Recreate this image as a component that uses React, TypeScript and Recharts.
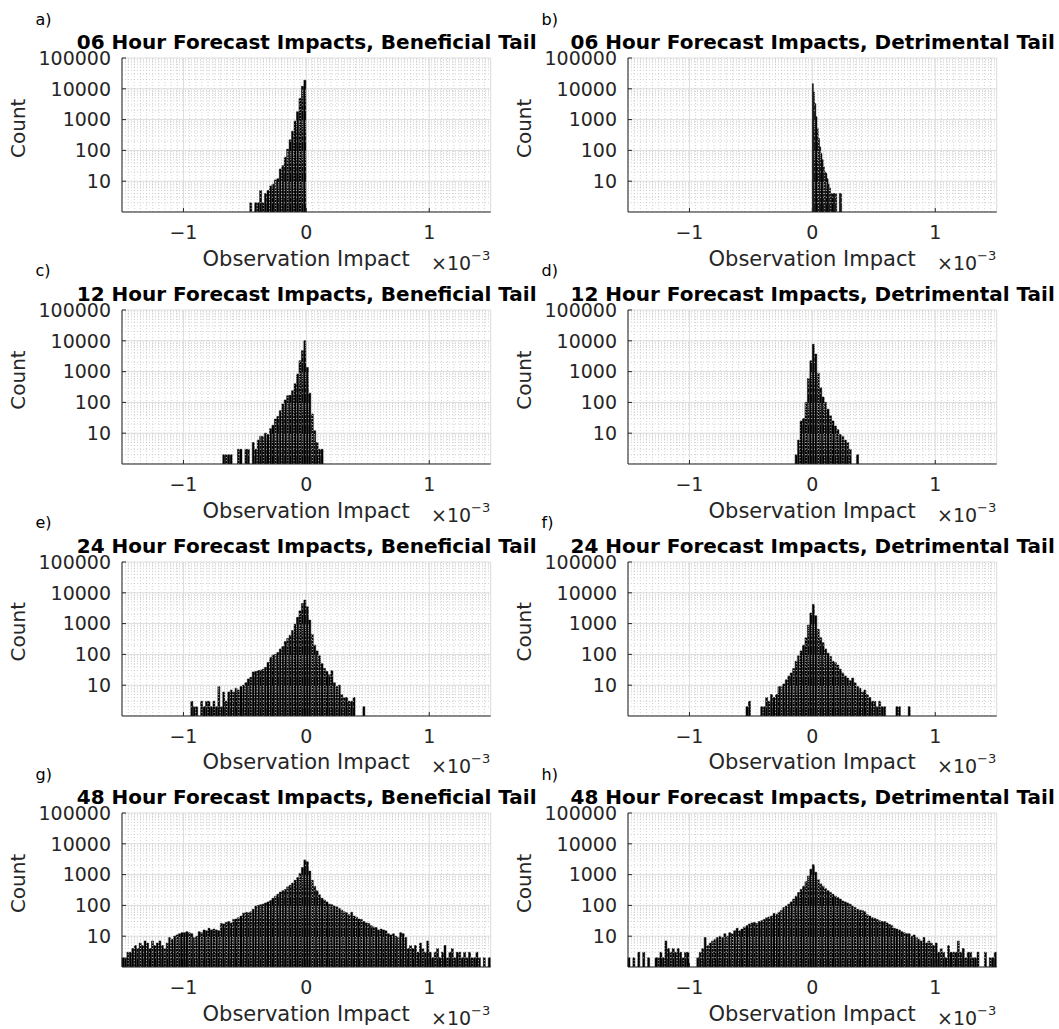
import React from 'react';
import { BarChart, Bar, XAxis, YAxis, CartesianGrid, ReferenceLine } from 'recharts';

// ---- histogram counts (each list starts at its *Start edge, one value per bin of *Width) ----
const ben06Start = -0.46;
const ben06Width = 0.02;
const ben06Counts = [2, 0, 2, 2, 5, 2, 4, 5, 7, 8, 11, 12, 25, 32, 60, 110, 220, 420, 900, 1800, 4900, 12000, 19000];

const det06Start = 0;
const det06Width = 0.01;
const det06Counts = [14700, 7900, 3300, 1240, 510, 245, 130, 80, 50, 30, 20, 18, 12, 8, 6, 4, 4, 4, 4, 4, 0, 0, 4, 4];

const ben12Start = -0.68;
const ben12Width = 0.02;
const ben12Counts = [2, 2, 2, 2, 0, 0, 3, 3, 0, 3, 3, 0, 5, 3, 6, 8, 8, 10, 9, 14, 18, 29, 35, 54, 89, 120, 165, 170, 240, 400, 830, 2250, 4800, 10000, 1370, 200, 42, 12, 5, 3, 3];

const det12Start = -0.14;
const det12Width = 0.02;
const det12Counts = [2, 6, 25, 30, 100, 600, 2250, 7700, 3700, 900, 300, 150, 100, 60, 37, 25, 17, 13, 9, 8, 6, 5, 3, 0, 0, 2];

const ben24Start = -0.94;
const ben24Width = 0.02;
const ben24Counts = [3, 2, 2, 0, 3, 2, 3, 3, 2, 3, 2, 9, 2, 6, 3, 6, 7, 6, 8, 7, 9, 10, 12, 16, 18, 27, 28, 30, 31, 33, 38, 55, 80, 95, 100, 115, 150, 180, 260, 330, 420, 600, 950, 1600, 2600, 4500, 5800, 3500, 1300, 450, 200, 130, 90, 50, 35, 28, 22, 30, 12, 9, 10, 5, 4, 4, 3, 3, 4, 0, 0, 0, 2];

const det24Start = -0.54;
const det24Width = 0.02;
const det24Counts = [2, 3, 0, 0, 0, 0, 2, 2, 4, 3, 5, 4, 5, 9, 9, 11, 15, 20, 25, 35, 60, 90, 130, 200, 350, 900, 2200, 4200, 1800, 650, 350, 240, 150, 110, 85, 60, 54, 45, 33, 25, 20, 17, 14, 17, 12, 9, 8, 6, 7, 5, 4, 3, 3, 2, 3, 2, 2, 0, 0, 0, 0, 2, 2, 0, 0, 0, 2];

const ben48Start = -1.5;
const ben48Width = 0.02;
const ben48Counts = [
  2, 2, 3, 3, 4, 5, 4, 6, 5, 7, 6, 4, 7, 5, 6, 7, 5, 4, 6, 9,
  8, 10, 11, 12, 13, 13, 14, 13, 12, 9, 10, 14, 13, 16, 15, 18, 16, 17, 16, 15,
  26, 25, 28, 30, 27, 35, 36, 40, 45, 56, 60, 58, 62, 75, 95, 100, 105, 110, 120, 130,
  145, 170, 200, 230, 270, 300, 330, 400, 450, 530, 650, 800, 1100, 1700, 3000, 2600, 1300, 650, 420, 300,
  220, 170, 150, 130, 110, 105, 95, 90, 80, 70, 62, 58, 50, 60, 45, 42, 36, 35, 30, 27,
  26, 22, 20, 19, 16, 17, 16, 15, 12, 11, 12, 10, 9, 13, 12, 9, 4, 5, 4, 5,
  3, 6, 4, 3, 7, 3, 2, 3, 4, 2, 3, 5, 2, 3, 4, 2, 3, 3, 2, 3,
  2, 3, 2, 2, 3, 2, 0, 2, 0, 2,
];

const det48Start = -1.5;
const det48Width = 0.02;
const det48Counts = [
  2, 0, 2, 0, 3, 0, 3, 0, 2, 0, 0, 2, 2, 3, 2, 7, 4, 3, 4, 3,
  4, 3, 2, 3, 3, 0, 0, 0, 2, 3, 4, 9, 5, 6, 7, 8, 9, 10, 9, 12,
  10, 13, 12, 15, 18, 15, 17, 20, 22, 25, 27, 28, 26, 30, 32, 35, 40, 42, 45, 55,
  52, 60, 70, 85, 95, 110, 130, 160, 200, 260, 330, 420, 600, 900, 1500, 2100, 1200, 700, 500, 420,
  350, 300, 260, 230, 200, 180, 160, 140, 130, 120, 110, 95, 85, 75, 70, 68, 62, 50, 45, 40,
  38, 35, 32, 30, 30, 27, 24, 22, 18, 17, 16, 14, 13, 12, 12, 10, 11, 9, 8, 7,
  9, 6, 7, 6, 5, 6, 3, 4, 3, 2, 5, 3, 3, 3, 7, 3, 4, 2, 3, 3,
  2, 2, 3, 0, 0, 3, 0, 2, 2, 3,
];

// ---- panel text ----
const panelLetters = ['a)', 'b)', 'c)', 'd)', 'e)', 'f)', 'g)', 'h)'];
const panelTitles = [
  '06 Hour Forecast Impacts, Beneficial Tail',
  '06 Hour Forecast Impacts, Detrimental Tail',
  '12 Hour Forecast Impacts, Beneficial Tail',
  '12 Hour Forecast Impacts, Detrimental Tail',
  '24 Hour Forecast Impacts, Beneficial Tail',
  '24 Hour Forecast Impacts, Detrimental Tail',
  '48 Hour Forecast Impacts, Beneficial Tail',
  '48 Hour Forecast Impacts, Detrimental Tail',
];
const xLabel = 'Observation Impact';
const yLabel = 'Count';
const xTicks = [-1, 0, 1];
const yTicks = [10, 100, 1000, 10000, 100000];
const X_MIN = -1.5;
const X_MAX = 1.5;
const Y_MIN = 1;
const Y_MAX = 100000;

const histograms = [
  { start: ben06Start, width: ben06Width, counts: ben06Counts },
  { start: det06Start, width: det06Width, counts: det06Counts },
  { start: ben12Start, width: ben12Width, counts: ben12Counts },
  { start: det12Start, width: det12Width, counts: det12Counts },
  { start: ben24Start, width: ben24Width, counts: ben24Counts },
  { start: det24Start, width: det24Width, counts: det24Counts },
  { start: ben48Start, width: ben48Width, counts: ben48Counts },
  { start: det48Start, width: det48Width, counts: det48Counts },
];

// ---- layout ----
const PLOT_W = 368.7;
const PLOT_H = 154;
const COL_X = [122.3, 628.3];
const ROW_Y0 = 58.3;
const ROW_STEP = 251.7;
const Y_AXIS_W = 100;
const M_TOP = 12;
const M_RIGHT = 6;
const X_AXIS_H = 40;

const FONT = "'DejaVu Sans', sans-serif";
const AXIS_COLOR = '#262626';

// minor grid values
const minorY: number[] = [];
for (let e = 0; e < 5; e++) for (let m = 2; m <= 9; m++) minorY.push(m * Math.pow(10, e));
const minorX: number[] = [];
for (let i = -30; i <= 30; i++) {
  const v = i * 0.05;
  if (i % 20 !== 0 && Math.abs(v) < 1.5) minorX.push(Math.round(v * 1000) / 1000);
}

const fmtX = (v: number) => (v < 0 ? `\u2212${-v}` : `${v}`);

function buildBins(start: number, width: number, counts: number[]) {
  const n = Math.round((X_MAX - X_MIN) / width);
  const first = Math.round((start - X_MIN) / width);
  const rows: { bin: number; center: number; count: number | null }[] = [];
  for (let i = 0; i < n; i++) {
    const c = counts[i - first];
    rows.push({ bin: i, center: X_MIN + (i + 0.5) * width, count: c && c > 1 ? c : null });
  }
  return rows;
}

function Panel({ idx }: { idx: number }) {
  const h = histograms[idx];
  const data = buildBins(h.start, h.width, h.counts);
  const col = idx % 2;
  const row = Math.floor(idx / 2);
  const plotX = COL_X[col];
  const plotY = ROW_Y0 + row * ROW_STEP;
  const width = Y_AXIS_W + PLOT_W + M_RIGHT;
  const height = M_TOP + PLOT_H + X_AXIS_H;
  const tickStyle = { fill: AXIS_COLOR, fontSize: 19, fontFamily: FONT };
  return (
    <div style={{ position: 'absolute', left: plotX - Y_AXIS_W, top: plotY - M_TOP, width, height }}>
      <BarChart
        width={width}
        height={height}
        data={data}
        margin={{ top: M_TOP, right: M_RIGHT, bottom: 0, left: 0 }}
        barCategoryGap={0}
        barGap={0}
      >
        <CartesianGrid stroke="#dcdcdc" strokeWidth={1} />
        {minorY.map((v) => (
          <ReferenceLine key={`my${v}`} y={v} stroke="#c6c6c6" strokeDasharray="1 2" strokeWidth={0.8} />
        ))}
        {minorX.map((v) => (
          <ReferenceLine key={`mx${v}`} x={v} stroke="#c6c6c6" strokeDasharray="1 2" strokeWidth={0.8} />
        ))}
        <XAxis xAxisId="bins" dataKey="bin" type="category" hide />
        <XAxis
          dataKey="center"
          type="number"
          domain={[X_MIN, X_MAX]}
          allowDataOverflow
          ticks={xTicks}
          interval={0}
          tickFormatter={fmtX}
          tickSize={-4}
          tickMargin={18}
          height={X_AXIS_H}
          tick={tickStyle}
          axisLine={{ stroke: AXIS_COLOR }}
          tickLine={{ stroke: AXIS_COLOR }}
        />
        <XAxis
          xAxisId="top"
          orientation="top"
          dataKey="center"
          type="number"
          domain={[X_MIN, X_MAX]}
          allowDataOverflow
          ticks={xTicks}
          interval={0}
          height={0}
          tick={false}
          tickSize={-4}
          axisLine={{ stroke: AXIS_COLOR }}
          tickLine={{ stroke: AXIS_COLOR }}
        />
        <YAxis
          scale="log"
          type="number"
          domain={[Y_MIN, Y_MAX]}
          allowDataOverflow
          ticks={yTicks}
          interval={0}
          width={Y_AXIS_W}
          tickSize={-4}
          tickMargin={15}
          tick={tickStyle}
          axisLine={{ stroke: AXIS_COLOR }}
          tickLine={{ stroke: AXIS_COLOR }}
        />
        <YAxis
          yAxisId="right"
          orientation="right"
          scale="log"
          type="number"
          domain={[Y_MIN, Y_MAX]}
          allowDataOverflow
          ticks={yTicks}
          interval={0}
          width={0}
          tick={false}
          tickSize={-4}
          axisLine={{ stroke: AXIS_COLOR }}
          tickLine={{ stroke: AXIS_COLOR }}
        />
        <Bar
          xAxisId="bins"
          dataKey="count"
          fill="#000000"
          stroke="#000000"
          strokeWidth={0.5}
          isAnimationActive={false}
        />
      </BarChart>
    </div>
  );
}

function PanelText({ idx }: { idx: number }) {
  const col = idx % 2;
  const row = Math.floor(idx / 2);
  const plotX = COL_X[col];
  const plotY = ROW_Y0 + row * ROW_STEP;
  const cx = plotX + PLOT_W / 2;
  const bottom = plotY + PLOT_H;
  const countX = plotX - 104.6;
  const countY = plotY + PLOT_H / 2 - 7;
  return (
    <g fontFamily={FONT}>
      <text x={plotX - 86.8} y={plotY - 33.7} fontSize={16} fill="#000">
        {panelLetters[idx]}
      </text>
      <text x={cx} y={plotY - 9} fontSize={20} fontWeight="bold" textAnchor="middle" fill="#000">
        {panelTitles[idx]}
      </text>
      <text
        x={countX}
        y={countY}
        fontSize={20}
        textAnchor="middle"
        dominantBaseline="central"
        fill={AXIS_COLOR}
        transform={`rotate(-90 ${countX} ${countY})`}
      >
        {yLabel}
      </text>
      <text x={cx - 0.5} y={bottom + 53.6} fontSize={21} textAnchor="middle" fill={AXIS_COLOR}>
        {xLabel}
      </text>
      <text x={plotX + 308.7} y={bottom + 57.5} fontSize={19} fill={AXIS_COLOR}>
        <tspan>{'\u00d710'}</tspan>
        <tspan dy={-10} fontSize={13}>
          {'\u22123'}
        </tspan>
      </text>
    </g>
  );
}

export default function App() {
  const ids = [0, 1, 2, 3, 4, 5, 6, 7];
  return (
    <div style={{ position: 'absolute', left: 0, top: 0, width: 1059, height: 1029, background: '#fff', overflow: 'hidden' }}>
      {ids.map((i) => (
        <Panel key={i} idx={i} />
      ))}
      <svg width={1059} height={1029} style={{ position: 'absolute', left: 0, top: 0, pointerEvents: 'none' }}>
        {ids.map((i) => (
          <PanelText key={i} idx={i} />
        ))}
      </svg>
    </div>
  );
}
